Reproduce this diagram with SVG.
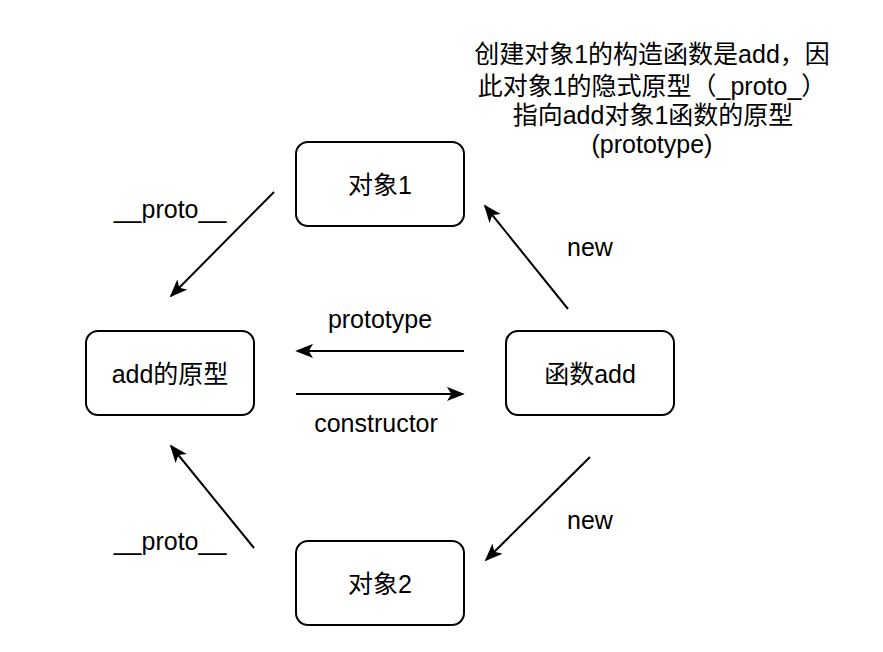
<svg xmlns="http://www.w3.org/2000/svg" width="883" height="652" viewBox="0 0 883 652">
<style>
.node rect{fill:#fff;stroke:#000;stroke-width:2}
text{font-family:"Liberation Sans","Noto Sans CJK SC",sans-serif;font-size:25px;fill:#000;text-anchor:middle}
.edge{stroke:#000;stroke-width:2;fill:none;marker-end:url(#arr)}
</style>
<defs>
<marker id="arr" viewBox="0 0 20 16" refX="18" refY="8" markerWidth="18" markerHeight="15" markerUnits="userSpaceOnUse" orient="auto">
<path d="M0,0 L20,8 L0,16 L5,8 Z" fill="#000"/>
</marker>
</defs>
<rect width="883" height="652" fill="#fff"/>
<g id="node-obj1" class="node"><rect x="296" y="142" width="168" height="84" rx="12"/><text x="380" y="194">对象1</text></g>
<g id="node-proto" class="node"><rect x="86" y="331" width="168" height="84" rx="12"/><text x="170" y="383">add的原型</text></g>
<g id="node-func" class="node"><rect x="506" y="331" width="168" height="84" rx="12"/><text x="590" y="383">函数add</text></g>
<g id="node-obj2" class="node"><rect x="296" y="541" width="168" height="84" rx="12"/><text x="380" y="593">对象2</text></g>
<g id="connectors">
<line class="edge" x1="274" y1="192" x2="171" y2="296"/>
<line class="edge" x1="464" y1="351" x2="297" y2="351"/>
<line class="edge" x1="296" y1="394" x2="463" y2="394"/>
<line class="edge" x1="568" y1="309" x2="485" y2="206"/>
<line class="edge" x1="590" y1="457" x2="486" y2="560"/>
<line class="edge" x1="254" y1="548" x2="171" y2="446"/>
</g>
<g id="labels">
<text x="170" y="218">__proto__</text>
<text x="590" y="256">new</text>
<text x="380" y="328">prototype</text>
<text x="376" y="432">constructor</text>
<text x="590" y="529">new</text>
<text x="170" y="550">__proto__</text>
</g>
<g id="note">
<text x="652" y="63">创建对象1的构造函数是add，因</text>
<text x="652" y="95">此对象1的隐式原型（_proto_）</text>
<text x="653" y="124">指向add对象1函数的原型</text>
<text x="652" y="153">(prototype)</text>
</g>
</svg>
